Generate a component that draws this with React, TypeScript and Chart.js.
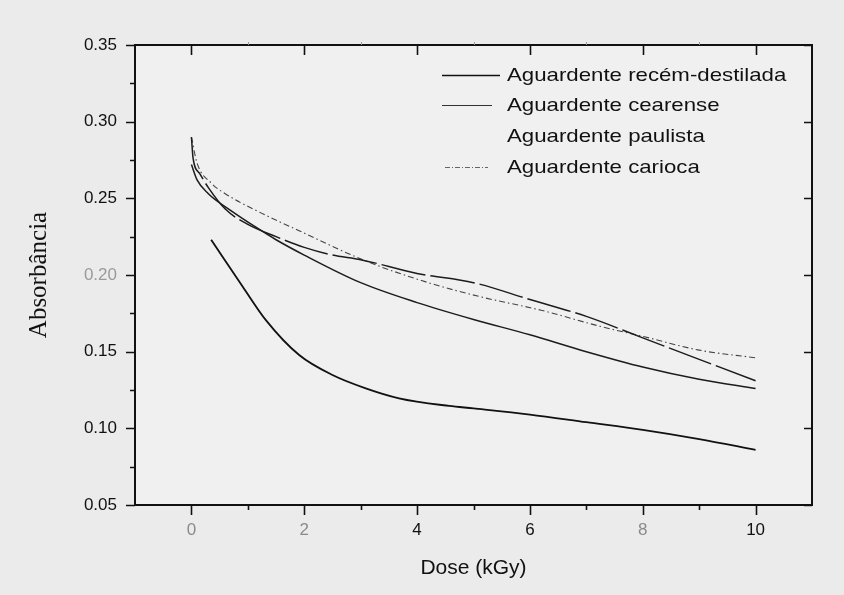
import React, { useEffect, useRef } from 'react';
import { Chart, registerables } from 'chart.js';
Chart.register(...registerables);

// ---- data ----
const doseRecem = [0.35, 0.91, 1.32, 1.91, 2.5, 3.09, 3.68, 4.57, 5, 6, 7, 8, 9, 10];
const absRecem = [0.223, 0.1924, 0.1706, 0.1478, 0.1348, 0.1261, 0.1196, 0.1146, 0.113, 0.109, 0.104, 0.099, 0.093, 0.086];

const doseCearense = [0, 0.1, 0.3, 0.7, 1.15, 1.5, 2, 3, 4, 5, 6, 7, 8, 9, 10];
const absCearense = [0.272, 0.262, 0.253, 0.242, 0.231, 0.223, 0.213, 0.195, 0.182, 0.171, 0.161, 0.150, 0.140, 0.132, 0.126];

const dosePaulista = [0, 0.03, 0.15, 0.3, 0.6, 1, 1.5, 2, 2.5, 3, 4, 5, 6, 7, 8, 9, 10];
const absPaulista = [0.290, 0.276, 0.266, 0.257, 0.243, 0.233, 0.225, 0.218, 0.213, 0.210, 0.201, 0.195, 0.184, 0.173, 0.159, 0.145, 0.131];

const doseCarioca = [0, 0.1, 0.35, 0.6, 1.15, 1.9, 3.1, 4.2, 5.1, 6.2, 7.3, 8, 9, 10];
const absCarioca = [0.290, 0.273, 0.260, 0.253, 0.242, 0.229, 0.209, 0.195, 0.186, 0.177, 0.166, 0.160, 0.151, 0.146];

const seriesNames = [
  'Aguardente recém-destilada',
  'Aguardente cearense',
  'Aguardente paulista',
  'Aguardente carioca',
];

const xMajorTicks = [0, 2, 4, 6, 8, 10];
const xMinorTicks = [1, 3, 5, 7, 9];
const yMajorTicks = [0.05, 0.10, 0.15, 0.20, 0.25, 0.30, 0.35];
const yMinorTicks = [0.075, 0.125, 0.175, 0.225, 0.275, 0.325];

const SANS = '"Liberation Sans", Arial, Helvetica, sans-serif';
const SERIF = '"Liberation Serif", "Times New Roman", serif';

const toPoints = (xs: number[], ys: number[]) => xs.map((x, i) => ({ x, y: ys[i] }));

const legendStyles = [
  { color: '#111', width: 1.7, dash: [] as number[], len: 58 },
  { color: '#333', width: 1.2, dash: [] as number[], len: 50 },
  { color: 'rgba(0,0,0,0)', width: 1, dash: [] as number[], len: 50 },
  { color: '#666', width: 1, dash: [5, 2, 1, 2], len: 43 },
];

const framePlugin = {
  id: 'framePlugin',
  beforeDraw(chart: any) {
    const { ctx, width, height, chartArea } = chart;
    ctx.save();
    ctx.fillStyle = '#ebebeb';
    ctx.fillRect(0, 0, width, height);
    ctx.fillStyle = '#f0f0f0';
    ctx.fillRect(chartArea.left, chartArea.top, chartArea.right - chartArea.left, chartArea.bottom - chartArea.top);
    ctx.restore();
  },
  afterDraw(chart: any) {
    const { ctx, chartArea } = chart;
    const { left, right, top, bottom } = chartArea;
    const xs = chart.scales.x;
    const ys = chart.scales.y;
    ctx.save();
    ctx.strokeStyle = '#111';
    ctx.lineWidth = 2;
    ctx.setLineDash([]);
    ctx.strokeRect(left, top, right - left, bottom - top);
    ctx.lineWidth = 1.6;
    ctx.beginPath();
    for (const v of xMajorTicks) {
      const px = Math.round(xs.getPixelForValue(v)) + 0.5;
      ctx.moveTo(px, bottom); ctx.lineTo(px, bottom + 10);
      ctx.moveTo(px, top); ctx.lineTo(px, top + 10);
    }
    for (const v of xMinorTicks) {
      const px = Math.round(xs.getPixelForValue(v)) + 0.5;
      ctx.moveTo(px, bottom); ctx.lineTo(px, bottom + 5);
    }
    for (const v of yMajorTicks) {
      const py = Math.round(ys.getPixelForValue(v)) + 0.5;
      ctx.moveTo(left, py); ctx.lineTo(left - 9, py);
      ctx.moveTo(right, py); ctx.lineTo(right - 8, py);
    }
    for (const v of yMinorTicks) {
      const py = Math.round(ys.getPixelForValue(v)) + 0.5;
      ctx.moveTo(left, py); ctx.lineTo(left - 5, py);
    }
    ctx.stroke();
    ctx.strokeStyle = '#999';
    ctx.lineWidth = 1;
    ctx.beginPath();
    for (const v of xMinorTicks) {
      const px = Math.round(xs.getPixelForValue(v)) + 0.5;
      ctx.moveTo(px, top); ctx.lineTo(px, top - 3);
    }
    ctx.stroke();

    // legend
    const rowOffsets = [30, 60, 91, 122];
    ctx.font = `19px ${SANS}`;
    ctx.textBaseline = 'middle';
    ctx.textAlign = 'left';
    seriesNames.forEach((name, i) => {
      const y = top + rowOffsets[i];
      const st = legendStyles[i];
      const x0 = right - 370 + (i === 3 ? 3 : 0);
      ctx.strokeStyle = st.color;
      ctx.lineWidth = st.width;
      ctx.setLineDash(st.dash);
      ctx.beginPath();
      ctx.moveTo(x0, y + 0.5);
      ctx.lineTo(x0 + st.len, y + 0.5);
      ctx.stroke();
      ctx.setLineDash([]);
      ctx.save();
      ctx.translate(right - 305, y + 1);
      ctx.scale(1.17, 1);
      ctx.fillStyle = '#111';
      ctx.fillText(name, 0, 0);
      ctx.restore();
    });
    ctx.restore();
  },
};

export default function App() {
  const ref = useRef<HTMLCanvasElement>(null);
  useEffect(() => {
    if (!ref.current) return;
    const chart = new Chart(ref.current, {
      type: 'line',
      data: {
        datasets: [
          {
            label: seriesNames[0],
            data: toPoints(doseRecem, absRecem),
            borderColor: '#111',
            borderWidth: 1.8,
            pointRadius: 0,
            cubicInterpolationMode: 'monotone',
            fill: false,
          },
          {
            label: seriesNames[1],
            data: toPoints(doseCearense, absCearense),
            borderColor: '#1c1c1c',
            borderWidth: 1.5,
            pointRadius: 0,
            cubicInterpolationMode: 'monotone',
            fill: false,
          },
          {
            label: seriesNames[2],
            data: toPoints(dosePaulista, absPaulista),
            borderColor: '#1c1c1c',
            borderWidth: 1.5,
            borderDash: [45, 5],
            pointRadius: 0,
            cubicInterpolationMode: 'monotone',
            fill: false,
          },
          {
            label: seriesNames[3],
            data: toPoints(doseCarioca, absCarioca),
            borderColor: '#444',
            borderWidth: 1.1,
            borderDash: [6, 3, 1.5, 3],
            pointRadius: 0,
            cubicInterpolationMode: 'monotone',
            fill: false,
          },
        ],
      },
      options: {
        responsive: false,
        devicePixelRatio: 1,
        animation: false,
        layout: { padding: { top: 45, right: 32, left: 0, bottom: 0 } },
        plugins: {
          legend: { display: false },
          tooltip: { enabled: false },
        },
        scales: {
          x: {
            type: 'linear',
            min: -1,
            max: 11,
            afterBuildTicks: (s: any) => { s.ticks = xMajorTicks.map((v) => ({ value: v })); },
            afterFit: (s: any) => { s.height = 90; },
            grid: { display: false, drawTicks: false },
            border: { display: false },
            ticks: {
              padding: 15,
              maxRotation: 0,
              autoSkip: false,
              font: { family: SANS, size: 17 },
              color: (c: any) => ([0, 2, 8].includes(c.tick && c.tick.value) ? '#8a8a8a' : '#111'),
              callback: (v: any) => String(v),
            },
            title: {
              display: true,
              text: 'Dose (kGy)',
              color: '#111',
              font: { family: SANS, size: 21 },
              padding: { top: 0, bottom: 14 },
            },
          },
          y: {
            type: 'linear',
            min: 0.05,
            max: 0.35,
            afterBuildTicks: (s: any) => { s.ticks = yMajorTicks.map((v) => ({ value: v })); },
            afterFit: (s: any) => { s.width = 135; },
            grid: { display: false, drawTicks: false },
            border: { display: false },
            ticks: {
              padding: 18,
              autoSkip: false,
              font: { family: SANS, size: 17 },
              color: (c: any) => (c.tick && Math.abs(c.tick.value - 0.2) < 1e-6 ? '#9a9a9a' : '#111'),
              callback: (v: any) => Number(v).toFixed(2),
            },
            title: {
              display: true,
              text: 'Absorbância',
              color: '#111',
              font: { family: SERIF, size: 25 },
              padding: { top: 24, bottom: 0 },
            },
          },
        },
      },
      plugins: [framePlugin],
    } as any);
    return () => chart.destroy();
  }, []);
  return (
    <div style={{ position: 'fixed', left: 0, top: 0, width: 844, height: 595 }}>
      <canvas ref={ref} width={844} height={595} style={{ display: 'block', width: 844, height: 595 }} />
    </div>
  );
}
